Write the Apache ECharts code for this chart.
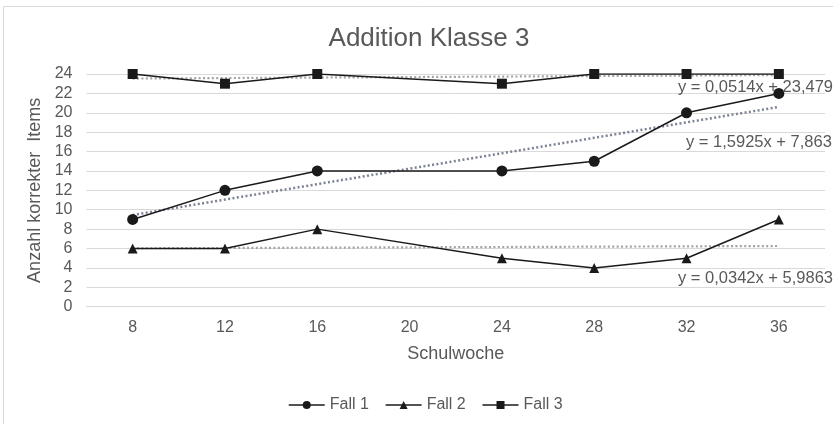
<!DOCTYPE html>
<html>
<head>
<meta charset="utf-8">
<script src="https://cdn.jsdelivr.net/npm/echarts@6/dist/echarts.min.js"></script>
<style>
html,body{margin:0;padding:0;background:#fff;}
#c{width:833px;height:424px;}
</style>
</head>
<body>
<div id="c"></div>
<script>
// Data
const weeks = ['8', '12', '16', '20', '24', '28', '32', '36'];
const fall1 = [9, 12, 14, null, 14, 15, 20, 22];
const fall2 = [6, 6, 8, null, 5, 4, 5, 9];
const fall3 = [24, 23, 24, null, 23, 24, 24, 24];
const yTicks = [0, 2, 4, 6, 8, 10, 12, 14, 16, 18, 20, 22, 24];
// Trendline equations as printed on the chart (x = category index 1..8)
const trendSlopes = [1.5925, 0.0342, 0.0514];
const trendIntercepts = [7.863, 5.9863, 23.479];
const trendLabels = ['y = 1,5925x + 7,863', 'y = 0,0342x + 5,9863', 'y = 0,0514x + 23,479'];

const TXT = '#595959';
const FONT = 'Liberation Sans, Arial, sans-serif';

function trend(k) {
  return weeks.map((w, i) => +(trendSlopes[k] * (i + 1) + trendIntercepts[k]).toFixed(4));
}

const chart = echarts.init(document.getElementById('c'), null, {renderer: 'canvas'});

const lineStyleMain = {color: '#1a1a1a', width: 1.5};
function mainSeries(name, data, symbol, size) {
  return {
    name: name, type: 'line', data: data, connectNulls: true,
    symbol: symbol, symbolSize: size, showSymbol: true,
    itemStyle: {color: '#1a1a1a'}, lineStyle: lineStyleMain,
    z: 5, animation: false
  };
}
function trendSeries(k, color, width) {
  return {
    name: 'trend' + k, type: 'line', data: trend(k), symbol: 'none',
    lineStyle: {color: color, width: width, type: [2, 2.4], cap: 'butt'},
    z: 3, animation: false, silent: true
  };
}

const option = {
  backgroundColor: '#fff',
  textStyle: {fontFamily: FONT},
  title: {
    text: 'Addition Klasse 3', left: 424, top: 21, textAlign: 'center',
    textStyle: {color: TXT, fontSize: 26, fontWeight: 'normal', fontFamily: FONT}
  },
  legend: {
    data: ['Fall 1', 'Fall 2', 'Fall 3'],
    left: 283, top: 392, itemWidth: 36, itemHeight: 10, itemGap: 16,
    textStyle: {color: TXT, fontSize: 16, fontFamily: FONT, padding: [0, 0, 0, 0]},
    itemStyle: {color: '#1a1a1a'},
    lineStyle: {color: '#1a1a1a', width: 1.5}
  },
  grid: {left: 86.5, right: 8, top: 74, bottom: 117.3, containLabel: false},
  xAxis: {
    type: 'category', data: weeks, boundaryGap: true,
    name: 'Schulwoche', nameLocation: 'middle', nameGap: 38,
    nameTextStyle: {color: TXT, fontSize: 18, fontFamily: FONT},
    axisLine: {show: true, lineStyle: {color: '#d9d9d9', width: 1}},
    axisTick: {show: false},
    axisLabel: {color: TXT, fontSize: 16, margin: 13, fontFamily: FONT}
  },
  yAxis: {
    type: 'value', min: yTicks[0], max: yTicks[yTicks.length - 1], interval: 2,
    name: 'Anzahl korrekter  Items', nameLocation: 'middle', nameGap: 36,
    nameTextStyle: {color: TXT, fontSize: 18, fontFamily: FONT},
    axisLine: {show: false}, axisTick: {show: false},
    splitLine: {lineStyle: {color: '#d9d9d9', width: 1}},
    axisLabel: {color: TXT, fontSize: 16, margin: 14, fontFamily: FONT}
  },
  graphic: [
    {type: 'rect', shape: {x: 3.5, y: 6.5, width: 900, height: 500},
     style: {fill: 'none', stroke: '#d9d9d9', lineWidth: 1}, silent: true, z: -1},
    {type: 'text', left: 678, top: 79, z: 10,
     style: {text: trendLabels[2], fill: TXT, font: '16.5px ' + FONT}},
    {type: 'text', left: 686, top: 134, z: 10,
     style: {text: trendLabels[0], fill: TXT, font: '16.5px ' + FONT}},
    {type: 'text', left: 678, top: 270, z: 10,
     style: {text: trendLabels[1], fill: TXT, font: '16.5px ' + FONT}}
  ],
  series: [
    trendSeries(0, '#7c8196', 2.5),
    trendSeries(1, '#a3a3a3', 2.2),
    trendSeries(2, '#a3a3a3', 2.2),
    mainSeries('Fall 1', fall1, 'circle', 11),
    mainSeries('Fall 2', fall2, 'triangle', 10),
    mainSeries('Fall 3', fall3, 'rect', 10)
  ]
};
chart.setOption(option);
</script>
</body>
</html>
